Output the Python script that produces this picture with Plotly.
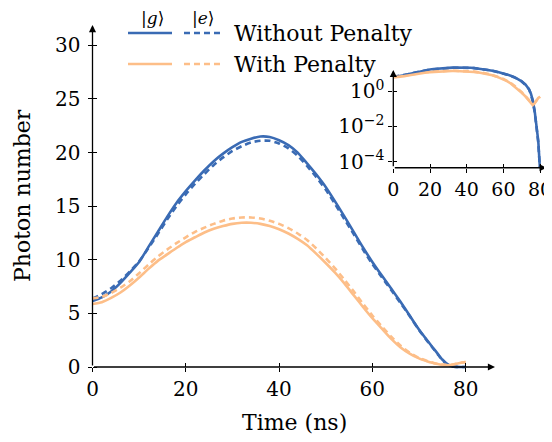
import plotly.graph_objects as go

# ---------------- data ----------------
time_ns = [0, 2, 4, 6, 8, 10, 12, 14, 16, 18, 20, 22, 24, 26, 28, 30, 32, 34, 36, 38,
           40, 42, 44, 46, 48, 50, 52, 54, 56, 58, 60, 62, 64, 66, 68, 70, 72,
           73, 74, 75, 76, 77, 78, 79, 80]

g_without = [6.15, 6.5, 7.05, 7.85, 8.8, 9.8, 11.2, 12.6, 14.0, 15.3, 16.4, 17.4, 18.35, 19.2, 19.9,
             20.5, 21.0, 21.3, 21.5, 21.45, 21.15, 20.7, 20.0, 19.0, 17.95, 16.8, 15.45, 14.05,
             12.6, 11.15, 9.8, 8.55, 7.35, 6.1, 4.8, 3.5, 2.35,
             1.8, 1.25, 0.7, 0.3, 0.08, 0.012, 0.0015, 0.00003]

e_without = [6.4, 6.8, 7.35, 8.05, 8.9, 9.85, 11.1, 12.4, 13.75, 15.0, 16.1, 17.1, 18.0, 18.85, 19.55,
             20.15, 20.6, 20.95, 21.1, 21.1, 20.85, 20.4, 19.7, 18.75, 17.7, 16.55, 15.2, 13.8,
             12.4, 10.95, 9.6, 8.4, 7.2, 6.0, 4.75, 3.45, 2.3,
             1.75, 1.2, 0.65, 0.26, 0.07, 0.01, 0.0012, 0.00003]

g_with = [5.87, 6.05, 6.45, 6.95, 7.6, 8.35, 9.15, 9.9, 10.5, 11.1, 11.65, 12.1, 12.55, 12.9, 13.15,
          13.35, 13.45, 13.45, 13.35, 13.15, 12.85, 12.45, 11.95, 11.35, 10.55, 9.7, 8.8, 7.8,
          6.7, 5.6, 4.55, 3.6, 2.65, 1.85, 1.25, 0.8, 0.5,
          0.38, 0.27, 0.2, 0.16, 0.2, 0.3, 0.4, 0.47]

e_with = [6.4, 6.55, 6.9, 7.4, 8.0, 8.75, 9.55, 10.3, 10.95, 11.55, 12.1, 12.6, 13.0, 13.35, 13.65,
          13.85, 13.95, 13.95, 13.85, 13.65, 13.35, 12.95, 12.45, 11.85, 11.05, 10.15, 9.2, 8.15,
          7.05, 5.9, 4.8, 3.8, 2.85, 2.0, 1.35, 0.85, 0.52,
          0.4, 0.29, 0.22, 0.18, 0.21, 0.3, 0.4, 0.47]

x_ticks = [0, 20, 40, 60, 80]
y_ticks = [0, 5, 10, 15, 20, 25, 30]
inset_y_ticks = [1, 0.01, 0.0001]
inset_y_text = ["10<sup>0</sup>", "10<sup>−2</sup>", "10<sup>−4</sup>"]

legend_rows = ["Without Penalty", "With Penalty"]
legend_cols = ["|<i>g</i>⟩", "|<i>e</i>⟩"]

BLUE = "#3A6BB4"
ORANGE = "#FDBE88"
FONT = "DejaVu Serif"
VW, VH = 552, 442          # browser window
OFF = 8                    # default page body margin
W, H = VW - OFF, VH - OFF  # figure size


def px_x(p):
    return (p - OFF) / W


def px_y(p):
    return (VH - p) / H


# main axes: x 0..86.3 over px 92.5..495 ; y 0..31.9 over px 367..25 (10.72 px/unit)
main_xr = [0, 86.3]
main_y_top = 31.9
main_yr = [-0.35, main_y_top]
main_ydom = [px_y(367 + 0.35 * 10.72), px_y(25)]
main_xdom = [px_x(92.5), px_x(495)]

# inset axes: x 0..83.6 over px 393.3..546.7 ; log y, 17.68 px/decade, 10^0 at px 91
ins_xr = [0, 83.6]
ins_y_bottom, ins_y_arrow, ins_y_top = -4.34, 1.19, 1.45
ins_yr = [ins_y_bottom, ins_y_top]
ins_xdom = [px_x(393.3), px_x(546.7)]
ins_ydom = [px_y(91 + 4.34 * 17.68), px_y(91 - 1.45 * 17.68)]

fig = go.Figure()

# main traces
fig.add_trace(go.Scatter(x=time_ns, y=g_without, mode="lines", line=dict(color=BLUE, width=2.6, shape="spline", smoothing=0.6), xaxis="x", yaxis="y", showlegend=False))
fig.add_trace(go.Scatter(x=time_ns, y=e_without, mode="lines", line=dict(color=BLUE, width=2.6, dash="6px,4px", shape="spline", smoothing=0.6), xaxis="x", yaxis="y", showlegend=False))
fig.add_trace(go.Scatter(x=time_ns, y=g_with, mode="lines", line=dict(color=ORANGE, width=2.6, shape="spline", smoothing=0.6), xaxis="x", yaxis="y", showlegend=False))
fig.add_trace(go.Scatter(x=time_ns, y=e_with, mode="lines", line=dict(color=ORANGE, width=2.6, dash="6px,4px", shape="spline", smoothing=0.6), xaxis="x", yaxis="y", showlegend=False))

# inset traces
fig.add_trace(go.Scatter(x=time_ns, y=e_without, mode="lines", line=dict(color=BLUE, width=2.6, dash="6px,4px"), xaxis="x3", yaxis="y3", showlegend=False))
fig.add_trace(go.Scatter(x=time_ns, y=e_with, mode="lines", line=dict(color=ORANGE, width=2.6, dash="6px,4px"), xaxis="x3", yaxis="y3", showlegend=False))
fig.add_trace(go.Scatter(x=time_ns, y=g_without, mode="lines", line=dict(color=BLUE, width=2.6), xaxis="x3", yaxis="y3", showlegend=False))
fig.add_trace(go.Scatter(x=time_ns, y=g_with, mode="lines", line=dict(color=ORANGE, width=2.6), xaxis="x3", yaxis="y3", showlegend=False))

# dummy traces to realise overlay axes (inner tick halves)
fig.add_trace(go.Scatter(x=[None], y=[None], xaxis="x2", yaxis="y2", showlegend=False, hoverinfo="skip"))
fig.add_trace(go.Scatter(x=[None], y=[None], xaxis="x4", yaxis="y4", showlegend=False, hoverinfo="skip"))

tickfont = dict(family=FONT, size=20, color="black")
inset_xfont = dict(family=FONT, size=19, color="black")
common = dict(showgrid=False, zeroline=False, linecolor="black", linewidth=1.3,
              tickcolor="black", tickwidth=1.3, automargin=False, showline=False,
              ticklabeloverflow="allow")
x_pos_main = px_y(367)
x_pos_ins = px_y(167.7)

fig.update_layout(
    width=W, height=H,
    margin=dict(l=0, r=0, t=0, b=0),
    paper_bgcolor="white", plot_bgcolor="rgba(0,0,0,0)",
    font=dict(family=FONT, color="black"),
    xaxis=dict(domain=main_xdom, range=main_xr, anchor="free", position=x_pos_main, tickvals=x_ticks,
               ticks="outside", ticklen=4, tickfont=tickfont, **common),
    yaxis=dict(domain=main_ydom, range=main_yr, anchor="x", tickvals=y_ticks, ticks="outside", ticklen=4,
               tickfont=tickfont, ticklabelstandoff=3, **common),
    xaxis2=dict(domain=main_xdom, range=main_xr, overlaying="x", anchor="free", position=x_pos_main,
                tickvals=x_ticks, ticks="inside", ticklen=4, showticklabels=False, **common),
    yaxis2=dict(domain=main_ydom, range=main_yr, overlaying="y", anchor="x2", tickvals=y_ticks, ticks="inside",
                ticklen=4, showticklabels=False, **common),
    xaxis3=dict(domain=ins_xdom, range=ins_xr, anchor="free", position=x_pos_ins, tickvals=x_ticks,
                ticks="outside", ticklen=4, tickfont=inset_xfont, **common),
    yaxis3=dict(domain=ins_ydom, range=ins_yr, type="log", anchor="x3", tickvals=inset_y_ticks,
                ticktext=inset_y_text, ticks="outside", ticklen=4, tickfont=tickfont, **common),
    xaxis4=dict(domain=ins_xdom, range=ins_xr, overlaying="x3", anchor="free", position=x_pos_ins,
                tickvals=x_ticks, ticks="inside", ticklen=4, showticklabels=False, **common),
    yaxis4=dict(domain=ins_ydom, range=ins_yr, type="log", overlaying="y3", anchor="x4", tickvals=inset_y_ticks,
                ticks="inside", ticklen=4, showticklabels=False, **common),
)

annotations = []
# axis spines with arrow heads
arrow = dict(showarrow=True, arrowhead=2, arrowsize=1.1, arrowwidth=1.3, arrowcolor="black", text="")
annotations.append(dict(xref="x", yref="y", axref="x", ayref="y", x=main_xr[1], y=0, ax=0, ay=0, **arrow))
annotations.append(dict(xref="x", yref="y", axref="x", ayref="y", x=0, y=main_y_top, ax=0, ay=0, **arrow))
annotations.append(dict(xref="x3", yref="y3", axref="x3", ayref="y3", x=ins_xr[1], y=ins_y_bottom, ax=0, ay=ins_y_bottom, **arrow))
annotations.append(dict(xref="x3", yref="y3", axref="x3", ayref="y3", x=0, y=ins_y_arrow, ax=0, ay=ins_y_bottom, **arrow))

# axis titles
annotations.append(dict(xref="paper", yref="paper", x=px_x(294), y=px_y(422), text="Time (ns)", showarrow=False,
                        font=dict(family=FONT, size=22, color="black"), xanchor="center", yanchor="middle"))
annotations.append(dict(xref="paper", yref="paper", x=px_x(22), y=px_y(196), text="Photon number", showarrow=False,
                        textangle=-90, font=dict(family=FONT, size=22, color="black"), xanchor="center", yanchor="middle"))

# legend
for txt, yc in zip(legend_rows, [33, 64]):
    annotations.append(dict(xref="paper", yref="paper", x=px_x(232), y=px_y(yc), text=txt, showarrow=False,
                            font=dict(family=FONT, size=22, color="black"), xanchor="left", yanchor="middle"))
for txt, xc in zip(legend_cols, [152, 203]):
    annotations.append(dict(xref="paper", yref="paper", x=px_x(xc), y=px_y(18), text=txt, showarrow=False,
                            font=dict(family=FONT, size=17, color="black"), xanchor="center", yanchor="middle"))
fig.update_layout(annotations=annotations)

shapes = []
for col, yc in zip([BLUE, ORANGE], [33, 64]):
    shapes.append(dict(type="line", xref="paper", yref="paper", x0=px_x(128), x1=px_x(172), y0=px_y(yc), y1=px_y(yc),
                       line=dict(color=col, width=2.6)))
    shapes.append(dict(type="line", xref="paper", yref="paper", x0=px_x(184), x1=px_x(222), y0=px_y(yc), y1=px_y(yc),
                       line=dict(color=col, width=2.6, dash="6px,4px")))
fig.update_layout(shapes=shapes)

fig.write_html("out.html")
